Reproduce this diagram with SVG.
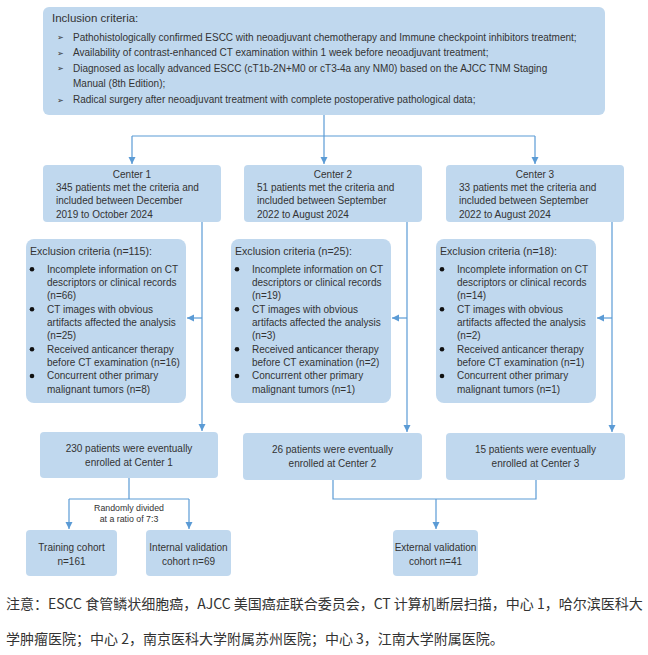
<svg xmlns="http://www.w3.org/2000/svg" width="648" height="655" viewBox="0 0 648 655">
<defs>
<marker id="ah" markerUnits="userSpaceOnUse" markerWidth="8" markerHeight="8" refX="7" refY="3.5" orient="auto">
<path d="M0,0 L7,3.5 L0,7 z" fill="#5B9BD5"/>
</marker>
<style>
.box{fill:#C0D8EE;}
.t{font-family:"Liberation Sans",Arial,sans-serif;font-size:10px;fill:#333;}
.c{text-anchor:middle;}
.h{font-size:10.6px;}
.s{font-size:8.8px;}
.ln{fill:none;stroke:#5B9BD5;stroke-width:1.2;}
.ar{marker-end:url(#ah);}
.dot{fill:#111;}
.note{font-family:"Noto Sans CJK SC","Noto Sans",sans-serif;font-size:14px;fill:#333;}
</style>
</defs>
<rect width="648" height="655" fill="#fff"/>

<g id="connectors">
<path class="ln ar" d="M324,115 V164"/>
<path class="ln" d="M132,136 H535"/>
<path class="ln ar" d="M132,136 V164"/>
<path class="ln ar" d="M535,136 V164"/>
<path class="ln ar" d="M202,222 V431"/>
<path class="ln ar" d="M202,318 H187"/>
<path class="ln ar" d="M407,222 V432"/>
<path class="ln ar" d="M407,318 H392"/>
<path class="ln ar" d="M612,222 V432"/>
<path class="ln ar" d="M612,318 H597"/>
<path class="ln" d="M129,478 V499 M69,499 H189"/>
<path class="ln ar" d="M69,499 V529"/>
<path class="ln ar" d="M189,499 V529"/>
<path class="ln" d="M333,480 V499 H536 V480"/>
<path class="ln ar" d="M436,499 V529"/>
</g>

<g id="inclusion">
<rect class="box" x="43" y="7" width="562" height="108" rx="6"/>
<text class="t" x="52" y="22" style="font-size:11.5px">Inclusion criteria:</text>
<g class="t" style="font-family:'DejaVu Sans',sans-serif;font-size:8px">
<text x="57" y="40">➢</text>
<text x="57" y="55.5">➢</text>
<text x="57" y="71">➢</text>
<text x="57" y="102.5">➢</text>
</g>
<text class="t" x="73" y="40.6">Pathohistologically confirmed ESCC with neoadjuvant chemotherapy and Immune checkpoint inhibitors treatment;</text>
<text class="t" x="73" y="56">Availability of contrast-enhanced CT examination within 1 week before neoadjuvant treatment;</text>
<text class="t" x="73" y="71.6">Diagnosed as locally advanced ESCC (cT1b-2N+M0 or cT3-4a any NM0) based on the AJCC TNM Staging</text>
<text class="t" x="73" y="87.4">Manual (8th Edition);</text>
<text class="t" x="73" y="103.2">Radical surgery after neoadjuvant treatment with complete postoperative pathological data;</text>
</g>

<g id="center1">
<rect class="box" x="43" y="165" width="178" height="57" rx="4"/>
<text class="t c" x="132" y="177.6">Center 1</text>
<text class="t" x="56" y="190.9">345 patients met the criteria and</text>
<text class="t" x="56" y="204.2">included between December</text>
<text class="t" x="56" y="217.5">2019 to October 2024</text>
</g>
<g id="center2">
<rect class="box" x="244" y="165" width="178" height="57" rx="4"/>
<text class="t c" x="333" y="177.6">Center 2</text>
<text class="t" x="257" y="190.9">51 patients met the criteria and</text>
<text class="t" x="257" y="204.2">included between September</text>
<text class="t" x="257" y="217.5">2022 to August 2024</text>
</g>
<g id="center3">
<rect class="box" x="446" y="165" width="178" height="57" rx="4"/>
<text class="t c" x="535" y="177.6">Center 3</text>
<text class="t" x="459" y="190.9">33 patients met the criteria and</text>
<text class="t" x="459" y="204.2">included between September</text>
<text class="t" x="459" y="217.5">2022 to August 2024</text>
</g>

<g id="exclusion1">
<rect class="box" x="26" y="239" width="160" height="164" rx="8"/>
<text class="t h" x="30" y="255">Exclusion criteria (n=115):</text>
<circle class="dot" cx="32" cy="269.3" r="2.3"/>
<circle class="dot" cx="32" cy="309.3" r="2.3"/>
<circle class="dot" cx="32" cy="349.3" r="2.3"/>
<circle class="dot" cx="32" cy="376" r="2.3"/>
<text class="t" x="47" y="272.6">Incomplete information on CT</text>
<text class="t" x="47" y="286">descriptors or clinical records</text>
<text class="t" x="47" y="299.3">(n=66)</text>
<text class="t" x="47" y="312.6">CT images with obvious</text>
<text class="t" x="47" y="326">artifacts affected the analysis</text>
<text class="t" x="47" y="339.3">(n=25)</text>
<text class="t" x="47" y="352.6">Received anticancer therapy</text>
<text class="t" x="47" y="366">before CT examination (n=16)</text>
<text class="t" x="47" y="379.3">Concurrent other primary</text>
<text class="t" x="47" y="392.6">malignant tumors (n=8)</text>
</g>
<g id="exclusion2">
<rect class="box" x="231" y="239" width="160" height="164" rx="8"/>
<text class="t h" x="235" y="255">Exclusion criteria (n=25):</text>
<circle class="dot" cx="237" cy="269.3" r="2.3"/>
<circle class="dot" cx="237" cy="309.3" r="2.3"/>
<circle class="dot" cx="237" cy="349.3" r="2.3"/>
<circle class="dot" cx="237" cy="376" r="2.3"/>
<text class="t" x="252" y="272.6">Incomplete information on CT</text>
<text class="t" x="252" y="286">descriptors or clinical records</text>
<text class="t" x="252" y="299.3">(n=19)</text>
<text class="t" x="252" y="312.6">CT images with obvious</text>
<text class="t" x="252" y="326">artifacts affected the analysis</text>
<text class="t" x="252" y="339.3">(n=3)</text>
<text class="t" x="252" y="352.6">Received anticancer therapy</text>
<text class="t" x="252" y="366">before CT examination (n=2)</text>
<text class="t" x="252" y="379.3">Concurrent other primary</text>
<text class="t" x="252" y="392.6">malignant tumors (n=1)</text>
</g>
<g id="exclusion3">
<rect class="box" x="436" y="239" width="160" height="164" rx="8"/>
<text class="t h" x="440" y="255">Exclusion criteria (n=18):</text>
<circle class="dot" cx="442" cy="269.3" r="2.3"/>
<circle class="dot" cx="442" cy="309.3" r="2.3"/>
<circle class="dot" cx="442" cy="349.3" r="2.3"/>
<circle class="dot" cx="442" cy="376" r="2.3"/>
<text class="t" x="457" y="272.6">Incomplete information on CT</text>
<text class="t" x="457" y="286">descriptors or clinical records</text>
<text class="t" x="457" y="299.3">(n=14)</text>
<text class="t" x="457" y="312.6">CT images with obvious</text>
<text class="t" x="457" y="326">artifacts affected the analysis</text>
<text class="t" x="457" y="339.3">(n=2)</text>
<text class="t" x="457" y="352.6">Received anticancer therapy</text>
<text class="t" x="457" y="366">before CT examination (n=1)</text>
<text class="t" x="457" y="379.3">Concurrent other primary</text>
<text class="t" x="457" y="392.6">malignant tumors (n=1)</text>
</g>

<g id="enrolled1">
<rect class="box" x="40" y="432" width="178" height="46" rx="4"/>
<text class="t c" x="129" y="451.5">230 patients were eventually</text>
<text class="t c" x="129" y="465.5">enrolled at Center 1</text>
</g>
<g id="enrolled2">
<rect class="box" x="243" y="433" width="179" height="47" rx="4"/>
<text class="t c" x="332.5" y="453">26 patients were eventually</text>
<text class="t c" x="332.5" y="467">enrolled at Center 2</text>
</g>
<g id="enrolled3">
<rect class="box" x="446" y="433" width="179" height="47" rx="4"/>
<text class="t c" x="535.5" y="453">15 patients were eventually</text>
<text class="t c" x="535.5" y="467">enrolled at Center 3</text>
</g>

<g id="split-label">
<text class="t c s" x="129" y="511">Randomly divided</text>
<text class="t c s" x="129" y="522">at a ratio of 7:3</text>
</g>

<g id="training">
<rect class="box" x="26" y="530" width="91" height="46" rx="4"/>
<text class="t c" x="71.5" y="550.6">Training cohort</text>
<text class="t c" x="71.5" y="564.6">n=161</text>
</g>
<g id="internal">
<rect class="box" x="146" y="530" width="85" height="46" rx="4"/>
<text class="t c" x="188.5" y="550.6">Internal validation</text>
<text class="t c" x="188.5" y="564.6">cohort n=69</text>
</g>
<g id="external">
<rect class="box" x="393" y="530" width="85" height="46" rx="4"/>
<text class="t c" x="435.5" y="550.6">External validation</text>
<text class="t c" x="435.5" y="564.6">cohort n=41</text>
</g>

<g id="note">
<text class="note" x="6" y="608.5">注意：ESCC 食管鳞状细胞癌，AJCC 美国癌症联合委员会，CT 计算机断层扫描，中心 1，哈尔滨医科大</text>
<text class="note" x="6" y="643.5">学肿瘤医院；中心 2，南京医科大学附属苏州医院；中心 3，江南大学附属医院。</text>
</g>
</svg>
